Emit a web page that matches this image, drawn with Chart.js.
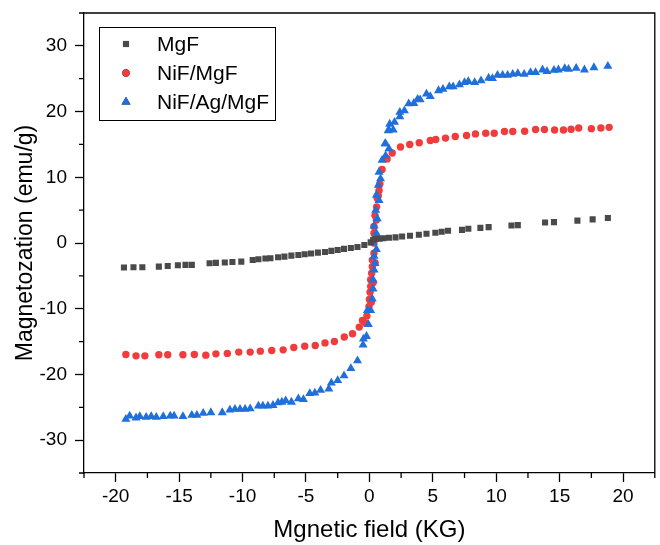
<!DOCTYPE html>
<html>
<head>
<meta charset="utf-8">
<script src="https://cdn.jsdelivr.net/npm/chart.js@4.4.1/dist/chart.umd.min.js"></script>
<style>
  body { margin: 0; background: #fff; }
  #wrap { width: 660px; height: 545px; }
</style>
</head>
<body>
<div id="wrap"><canvas id="grafico"></canvas></div>
<script>
// series names
const seriesNames = ['MgF', 'NiF/MgF', 'NiF/Ag/MgF'];

// MgF
const fieldMgF = [-19.35, -18.6, -17.9, -16.6, -15.9, -15.1, -14.5, -14.0, -12.6, -12.1, -11.4, -10.8, -10.1,
  -9.2, -8.75, -8.2, -7.8, -7.2, -6.7, -6.15, -5.6, -5.1, -4.6, -4.06, -3.5, -3.0, -2.5, -2.0, -1.46, -0.94,
  -0.4, 0.1, 0.3, 0.5, 0.8, 1.1, 1.54, 2.06, 2.58, 3.2, 3.9, 4.5, 5.2, 5.7, 6.2, 7.3, 7.8, 8.75, 9.4,
  11.2, 11.7, 13.85, 14.55, 16.4, 17.6, 18.8];
const magMgF = [-3.74, -3.69, -3.69, -3.59, -3.49, -3.38, -3.33, -3.33, -3.08, -3.03, -2.98, -2.88, -2.83,
  -2.58, -2.48, -2.37, -2.32, -2.17, -2.07, -1.92, -1.82, -1.72, -1.6, -1.46, -1.36, -1.2, -1.06, -0.9, -0.75, -0.6,
  -0.3, 0.1, 0.5, 0.6, 0.65, 0.72, 0.8, 0.86, 1.0, 1.1, 1.26, 1.41, 1.57, 1.72, 1.87, 2.0, 2.17, 2.3, 2.42,
  2.67, 2.72, 3.13, 3.18, 3.4, 3.6, 3.8];

// NiF/MgF
const fieldNiF = [-19.2, -18.4, -17.7, -16.6, -15.9, -14.7, -13.8, -12.9, -12.1, -11.2, -10.3, -9.4, -8.6,
  -7.7, -6.8, -5.96, -5.1, -4.27, -3.5, -2.76, -1.98, -1.33, -0.8, -0.55, -0.2, -0.03, 0.0, 0.05, 0.1, 0.1,
  0.18, 0.23, 0.23, 0.36, 0.36, 0.36, 0.36, 0.44, 0.57, 0.62, 0.76, 0.83, 1.0, 1.4, 1.8, 2.45, 3.18, 3.93,
  4.8, 5.23, 6.0, 6.77, 7.66, 8.36, 9.17, 9.84, 10.65, 11.3, 12.24, 13.1, 13.8, 14.6, 15.3, 15.9, 16.5,
  17.5, 18.25, 18.9,
  -0.3, 0.15, 0.3, 0.45, 0.5, 0.55, 0.7];
const magNiF = [-16.97, -17.17, -17.17, -17.0, -17.0, -17.0, -16.97, -17.07, -16.87, -16.8, -16.6, -16.6, -16.46,
  -16.36, -16.26, -15.9, -15.7, -15.6, -15.2, -15.0, -14.3, -13.8, -12.8, -11.8, -11.1, -9.65, -8.6, -7.5, -6.6, -5.6,
  -4.6, -3.6, -2.6, -1.56, 0, 1.5, 2.5, 4.2, 5.5, 6.8, 8.0, 9.0, 11.2, 12.8, 13.7, 14.6, 15.0, 15.25,
  15.6, 15.76, 15.96, 16.2, 16.36, 16.6, 16.7, 16.7, 16.97, 16.97, 17.0, 17.27, 17.27, 17.2, 17.2, 17.3, 17.5,
  17.4, 17.5, 17.6,
  -12.2, -9.0, -6.0, -3.0, 0.8, 3.5, 7.2];

// NiF/Ag/MgF
const fieldAg = [-19.2, -18.9, -18.4, -18.1, -17.6, -17.2, -16.8, -16.25, -15.7, -15.4, -14.7, -14.0, -13.6,
  -13.1, -12.5, -11.6, -11.0, -10.6, -10.2, -9.8, -9.4, -8.75, -8.4, -8.0, -7.6, -7.2, -6.9, -6.6, -6.15,
  -5.6, -5.2, -4.7, -4.3, -3.85, -3.2, -3.0, -2.5, -2.0, -1.46, -0.94, -0.5, -0.47, -0.23, -0.08, 0.1, -0.16,
  0.23, 0.29, 0.29, 0.37, 0.44, 0.37, 0.55, 0.29, 0.55, 0.37, 0.62, 0.5, 0.76, 0.55, 0.7, 0.88, 0.76, 1.0,
  1.28, 1.23, 1.48, 1.6, 1.28, 1.54, 1.54, 1.88, 1.98, 2.4, 2.4, 2.76, 3.1, 3.5, 3.8, 4.0, 4.5, 4.8, 5.45,
  5.8, 6.3, 6.6, 7.1, 7.5, 7.8, 8.3, 8.8, 9.4, 9.7, 10.1, 10.5, 10.9, 11.3, 11.7, 12.2, 12.7, 13.1, 13.65,
  14.0, 14.55, 14.9, 15.4, 15.7, 16.3, 16.95, 17.7, 18.8];
const magAg = [-26.8, -26.3, -26.6, -26.4, -26.5, -26.4, -26.5, -26.4, -26.3, -26.3, -26.4, -26.2, -26.2,
  -25.9, -25.8, -25.8, -25.4, -25.3, -25.3, -25.3, -25.2, -24.8, -24.8, -24.8, -24.7, -24.3, -24.2, -24.0, -24.2,
  -23.7, -23.8, -22.9, -22.8, -22.4, -22.2, -21.3, -20.9, -20.2, -19.1, -17.9, -15.5, -14.6, -14.2, -12.4, -10.25, -10.25,
  -8.5, -7.0, -5.6, -4.1, -3.1, -2.0, -0.96, 0.05, 1.47, 2.6, 3.7, 5.0, 6.5, 7.3, 8.8, 9.8, 10.8, 12.6,
  13.3, 15.1, 17.1, 18.1, 15.1, 14.35, 17.2, 17.2, 18.4, 19.24, 19.9, 20.15, 21.2, 21.26, 21.9, 21.8, 22.7, 22.3, 23.2,
  23.4, 23.8, 23.8, 24.1, 24.45, 24.6, 24.45, 24.7, 25.1, 25.05, 25.55, 25.55, 25.55, 25.7, 25.8, 25.7, 25.95, 25.95, 26.36,
  26.1, 26.3, 26.36, 26.56, 26.46, 26.6, 26.36, 26.7, 26.9];

const xTicks = [-20, -15, -10, -5, 0, 5, 10, 15, 20];
const yTicks = [-30, -20, -10, 0, 10, 20, 30];

const cores = ['#4a4a4a', '#f03c3c', '#1f6fdc'];
const estilos = ['rect', 'circle', 'triangle'];
const raios = [4.3, 3.7, 5.2];

function pontos(xs, ys) {
  return xs.map((v, i) => ({ x: v, y: ys[i] }));
}

const FONTE = "'Liberation Sans', Arial, sans-serif";

// moldura + ticks menores + legenda
const extras = {
  id: 'extras',
  afterDraw(chart) {
    const ctx = chart.ctx;
    const a = chart.chartArea;
    const xs = chart.scales.x, ys = chart.scales.y;
    ctx.save();
    ctx.strokeStyle = '#000';
    ctx.lineWidth = 1.3;
    ctx.beginPath();
    ctx.moveTo(a.left, a.top); ctx.lineTo(a.right, a.top); ctx.lineTo(a.right, a.bottom);
    ctx.stroke();
    // ticks menores
    ctx.beginPath();
    for (let v = -22.5; v <= 22.5; v += 5) {
      const p = xs.getPixelForValue(v);
      ctx.moveTo(p, a.bottom); ctx.lineTo(p, a.bottom + 5);
    }
    for (let v = -35; v <= 35; v += 10) {
      const p = ys.getPixelForValue(v);
      ctx.moveTo(a.left, p); ctx.lineTo(a.left - 5, p);
    }
    ctx.stroke();
    // legenda
    const bx = a.left + 15, by = a.top + 14, bw = 176, bh = 93;
    ctx.lineWidth = 1;
    ctx.strokeRect(bx + 0.5, by + 0.5, bw, bh);
    ctx.font = '21px ' + FONTE;
    ctx.textBaseline = 'middle';
    chart.data.datasets.forEach((ds, i) => {
      const yy = by + 17 + i * 29;
      Chart.helpers.drawPoint(ctx, {
        pointStyle: ds.pointStyle, radius: ds.pointRadius, rotation: 0, borderWidth: 0
      }, bx + 27, yy);
      ctx.fillStyle = ds.backgroundColor;
      ctx.fill();
      ctx.fillStyle = '#000';
      ctx.fillText(ds.label, bx + 58, yy + 1);
    });
    ctx.restore();
  }
};

const ctx = document.getElementById('grafico').getContext('2d');
const grafico = new Chart(ctx, {
  type: 'scatter',
  data: {
    datasets: [
      { label: seriesNames[0], data: pontos(fieldMgF, magMgF), order: 0 },
      { label: seriesNames[1], data: pontos(fieldNiF, magNiF), order: 2 },
      { label: seriesNames[2], data: pontos(fieldAg, magAg), order: 1 }
    ].map((d, i) => Object.assign(d, {
      backgroundColor: cores[i],
      borderColor: cores[i],
      borderWidth: 0,
      pointStyle: estilos[i],
      pointRadius: raios[i],
      pointHoverRadius: raios[i]
    }))
  },
  options: {
    responsive: true,
    maintainAspectRatio: false,
    animation: false,
    layout: { padding: { top: 13, right: 1, left: 0, bottom: 0 } },
    plugins: {
      legend: { display: false },
      tooltip: { enabled: false }
    },
    scales: {
      x: {
        type: 'linear',
        min: -22.5,
        max: 22.5,
        afterFit(s) { s.height = 72; s.paddingLeft = 0; s.paddingRight = 0; },
        afterBuildTicks(s) { s.ticks = xTicks.map(v => ({ value: v })); },
        border: { display: true, color: '#000', width: 1.3 },
        grid: { drawOnChartArea: false, drawTicks: true, tickLength: 9, tickColor: '#000', tickWidth: 1.3 },
        ticks: { color: '#000', padding: 3, maxRotation: 0, font: { family: FONTE, size: 19 } },
        title: {
          display: true, text: 'Mgnetic field (KG)', color: '#000',
          font: { family: FONTE, size: 24 }, padding: { top: 0, bottom: 0 }
        }
      },
      y: {
        type: 'linear',
        min: -35,
        max: 35,
        afterFit(s) { s.width = 84; s.paddingTop = 0; s.paddingBottom = 0; },
        afterBuildTicks(s) { s.ticks = yTicks.map(v => ({ value: v })); },
        border: { display: true, color: '#000', width: 1.3 },
        grid: { drawOnChartArea: false, drawTicks: true, tickLength: 9, tickColor: '#000', tickWidth: 1.3 },
        ticks: { color: '#000', padding: 8, font: { family: FONTE, size: 19 } },
        title: {
          display: true, text: 'Magnetozation (emu/g)', color: '#000',
          font: { family: FONTE, size: 23 }, padding: { top: 12, bottom: 0 }
        }
      }
    }
  },
  plugins: [extras]
});
</script>
</body>
</html>
